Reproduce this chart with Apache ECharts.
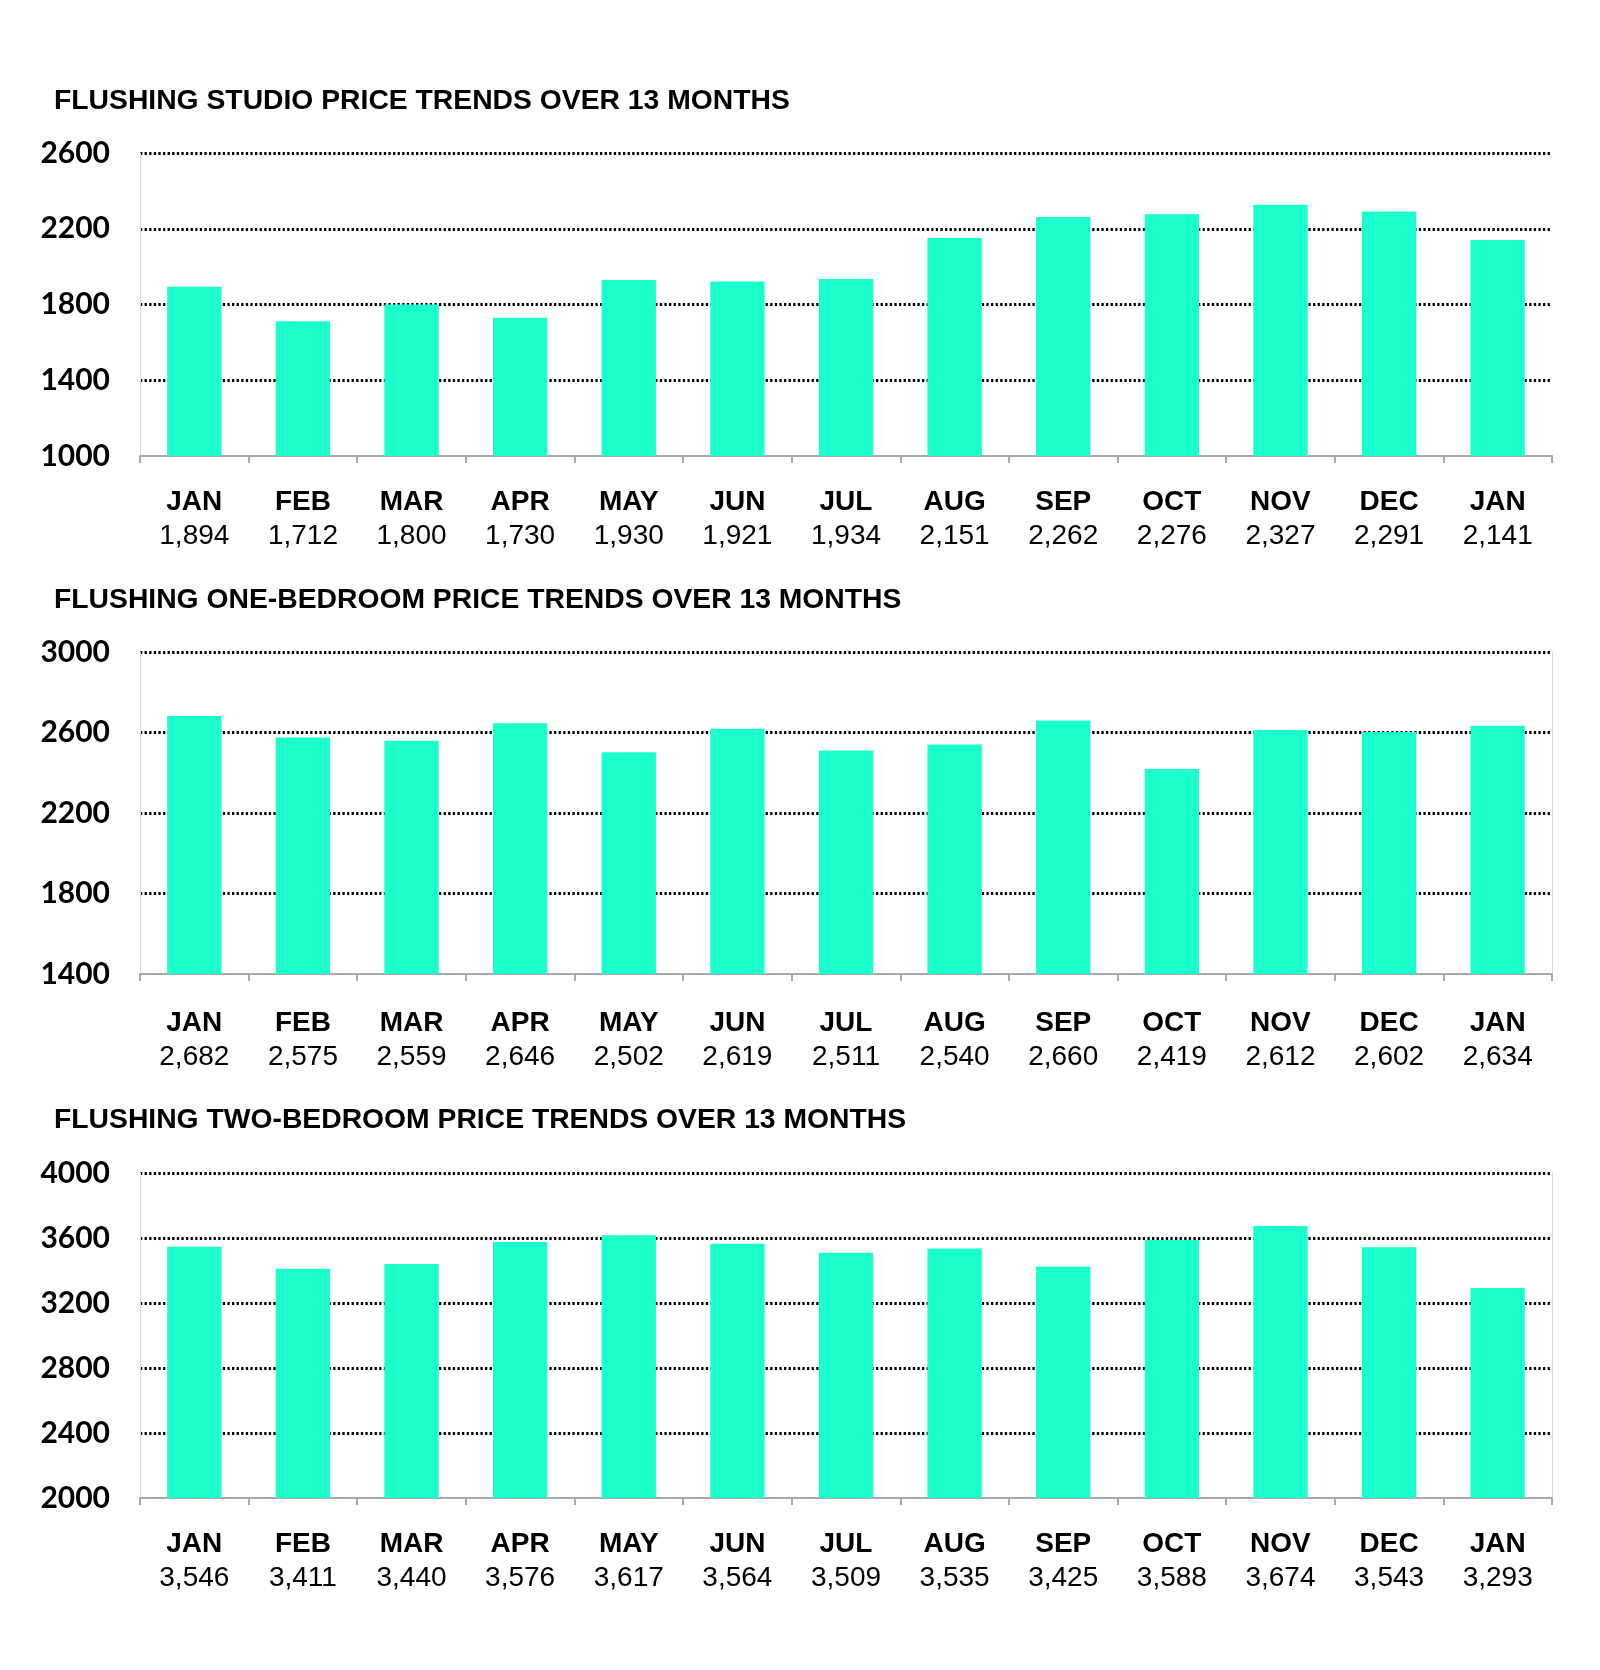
<!DOCTYPE html>
<html>
<head>
<meta charset="utf-8">
<script src="https://cdn.jsdelivr.net/npm/echarts@6/dist/echarts.min.js"></script>
<style>
html,body{margin:0;padding:0;background:#fff;}
#c{width:1600px;height:1670px;}
</style>
</head>
<body>
<div id="c"></div>
<script>
const months = ['JAN','FEB','MAR','APR','MAY','JUN','JUL','AUG','SEP','OCT','NOV','DEC','JAN'];
const studio = [1894,1712,1800,1730,1930,1921,1934,2151,2262,2276,2327,2291,2141];
const oneBed = [2682,2575,2559,2646,2502,2619,2511,2540,2660,2419,2612,2602,2634];
const twoBed = [3546,3411,3440,3576,3617,3564,3509,3535,3425,3588,3674,3543,3293];
const titles = ['FLUSHING STUDIO PRICE TRENDS OVER 13 MONTHS','FLUSHING ONE-BEDROOM PRICE TRENDS OVER 13 MONTHS','FLUSHING TWO-BEDROOM PRICE TRENDS OVER 13 MONTHS'];
const yRanges = [[1000,2600,400],[1400,3000,400],[2000,4000,400]];

const seriesData = [studio, oneBed, twoBed];
const grids = [
  {left:140, right:48, top:153, height:303},
  {left:140, right:48, top:652, height:322},
  {left:140, right:48, top:1173, height:325}
];
const titleTops = [82, 581, 1101];
const labelMargins = [29, 32, 29];
const rightBorder = [false, true, true];

const chart = echarts.init(document.getElementById('c'), null, {renderer:'canvas'});
const xAxis = [], yAxis = [], series = [], title = [];
seriesData.forEach((vals, i) => {
  title.push({
    text: titles[i], left: 49, top: titleTops[i],
    textStyle:{fontFamily:'Liberation Sans, Arial', fontWeight:'bold', fontSize:28.3, lineHeight:28, color:'#000'}
  });
  xAxis.push({
    type:'category', gridIndex:i, data: months,
    axisLine:{show:true, lineStyle:{color:'#a9a9a9', width:2}},
    axisTick:{show:true, length:7, lineStyle:{color:'#a9a9a9', width:2}},
    axisLabel:{
      interval:0, margin: labelMargins[i],
      formatter: (v, idx) => '{m|' + months[idx] + '}\n{v|' + vals[idx].toLocaleString('en-US') + '}',
      rich:{
        m:{fontFamily:'Liberation Sans, Arial', fontWeight:'bold', fontSize:28, lineHeight:34, color:'#000'},
        v:{fontFamily:'Liberation Sans, Arial', fontSize:28, lineHeight:34, color:'#000'}
      }
    },
    splitLine:{show:false}
  });
  const r = yRanges[i];
  yAxis.push({
    type:'value', gridIndex:i, min:r[0], max:r[1], interval:r[2],
    axisLine:{show:true, lineStyle:{color:'#d9d9d9', width:1}},
    axisTick:{show:false},
    axisLabel:{margin:30, fontFamily:'Lato', fontWeight:'bold', fontSize:30, color:'#000', formatter: v => String(v)},
    splitLine:{show:true, showMinLine:false, lineStyle:{color:'#000', width:3, type:[2.3,2.3]}}
  });
  series.push({
    type:'bar', xAxisIndex:i, yAxisIndex: yAxis.length-1, data: vals,
    barCategoryGap:'50%', itemStyle:{color:'#1affcc'}, silent:true
  });
  if (rightBorder[i]) {
    yAxis.push({
      type:'value', gridIndex:i, position:'right', min:r[0], max:r[1], interval:r[2],
      axisLine:{show:true, lineStyle:{color:'#d9d9d9', width:1}},
      axisTick:{show:false}, axisLabel:{show:false}, splitLine:{show:false}
    });
  }
});
chart.setOption({
  animation:false,
  backgroundColor:'#fff',
  title, grid: grids, xAxis, yAxis, series
});
</script>
</body>
</html>
